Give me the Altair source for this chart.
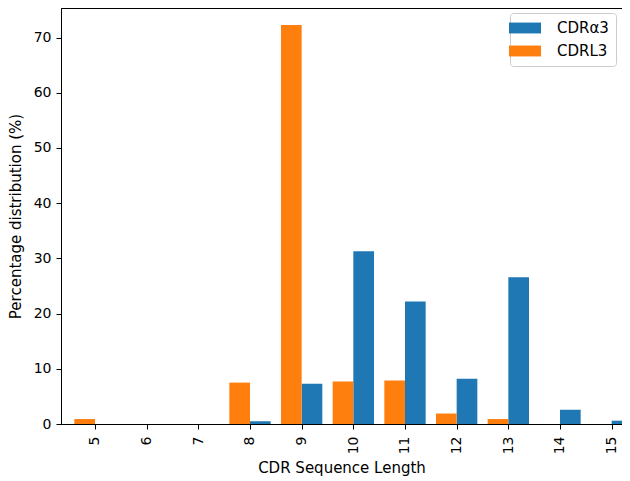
import altair as alt
import pandas as pd

lengths = [5, 6, 7, 8, 9, 10, 11, 12, 13, 14, 15]
cdr_alpha3 = [0.0, 0.0, 0.0, 0.5, 7.3, 31.3, 22.2, 8.2, 26.6, 2.6, 0.6]
cdr_l3 = [0.9, 0.0, 0.0, 7.5, 72.3, 7.7, 7.9, 1.9, 0.9, 0.0, 0.0]
series_names = ["CDRα3", "CDRL3"]
series_colors = ["#1f77b4", "#ff7f0e"]

rows = []
for n, a, l in zip(lengths, cdr_alpha3, cdr_l3):
    rows.append({"length": n, "series": series_names[0], "value": a})
    rows.append({"length": n, "series": series_names[1], "value": l})
df = pd.DataFrame(rows)

FONT = "DejaVu Sans"

bars = (
    alt.Chart(df)
    .transform_calculate(
        start="datum.series == 'CDRL3' ? datum.length - 0.4 : datum.length",
    )
    .transform_calculate(end="datum.start + 0.4")
    .mark_bar(clip=True)
    .encode(
        x=alt.X(
            "start:Q",
            scale=alt.Scale(domain=[4.342, 15.2], nice=False, zero=False),
            axis=alt.Axis(
                values=lengths,
                title="CDR Sequence Length",
                labelAngle=270,
                labelPadding=7,
                tickSize=5,
                grid=False,
                labelFlush=False,
                titlePadding=7,
                format="d",
            ),
        ),
        x2="end:Q",
        y=alt.Y(
            "value:Q",
            scale=alt.Scale(domain=[0, 75.36], nice=False),
            axis=alt.Axis(
                values=[0, 10, 20, 30, 40, 50, 60, 70],
                title="Percentage distribution (%)",
                tickSize=5,
                labelPadding=5,
                grid=False,
                titlePadding=10,
            ),
        ),
        y2=alt.datum(0),
        color=alt.Color(
            "series:N",
            scale=alt.Scale(domain=series_names, range=series_colors),
            legend=alt.Legend(
                title=None,
                orient="none",
                legendX=449,
                legendY=5,
                symbolType="M-2,-0.68H2V0.68H-2Z",
                symbolSize=256,
                symbolStrokeWidth=0,
                symbolOpacity=1,
                labelFontSize=15,
                labelFont=FONT,
                labelColor="#000000",
                labelOffset=24,
                rowPadding=7,
                padding=7,
                offset=0,
                strokeColor="#cccccc",
                fillColor="#ffffff",
                cornerRadius=3,
            ),
        ),
    )
)

chart = (
    bars.properties(
        width=561,
        height=416,
        autosize=alt.AutoSizeParams(type="none"),
        padding={"left": 53, "top": 0, "right": 0, "bottom": 53},
    )
    .configure_view(stroke="#000000", strokeWidth=1)
    .configure_axis(
        labelFont=FONT,
        titleFont=FONT,
        labelFontSize=14,
        titleFontSize=15,
        titleFontWeight="normal",
        labelColor="#000000",
        titleColor="#000000",
        domainColor="#000000",
        tickColor="#000000",
        domainWidth=1,
        tickWidth=1,
    )
)

chart.save("out.html", embed_options={"renderer": "svg", "actions": False})
